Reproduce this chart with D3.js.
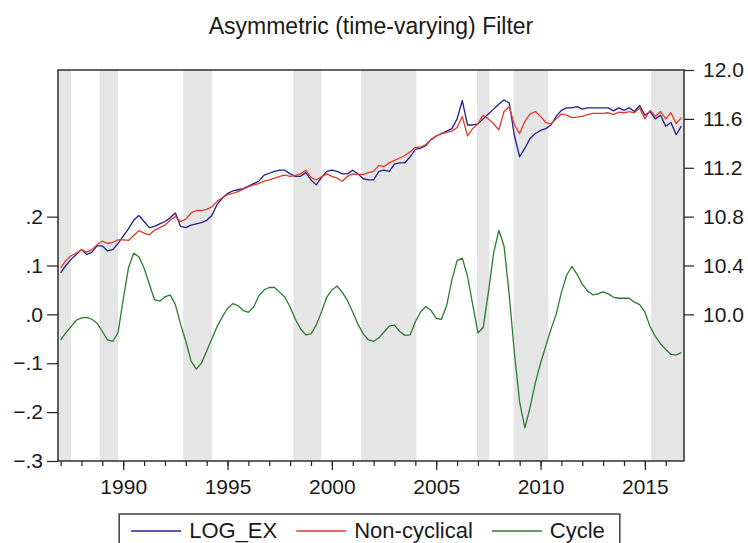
<!DOCTYPE html>
<html>
<head>
<meta charset="utf-8">
<script src="https://cdn.jsdelivr.net/npm/d3@7"></script>
<style>
  body { margin: 0; background: #fff; }
  text { font-family: "Liberation Sans", Arial, sans-serif; fill: #1a1a1a; }
</style>
</head>
<body>
<svg id="chart"></svg>
<script>
var width = 748, height = 543;
var plot = {left: 58, right: 684, top: 70, bottom: 461};

// quarterly data, 1987Q1 .. 2016Q4 (one row = one year)
var startYear = 1987;
var logEx = [
  10.34, 10.40, 10.45, 10.49,
  10.53, 10.49, 10.51, 10.56,
  10.56, 10.52, 10.53, 10.58,
  10.64, 10.70, 10.77, 10.81,
  10.76, 10.71, 10.72, 10.74,
  10.76, 10.79, 10.83, 10.72,
  10.71, 10.73, 10.74, 10.75,
  10.77, 10.81, 10.90, 10.95,
  10.99, 11.01, 11.02, 11.03,
  11.05, 11.07, 11.09, 11.14,
  11.155, 11.17, 11.18, 11.18,
  11.15, 11.13, 11.13, 11.16,
  11.10, 11.06, 11.12, 11.17,
  11.18, 11.17, 11.15, 11.15,
  11.18, 11.15, 11.11, 11.10,
  11.10, 11.17, 11.18, 11.17,
  11.23, 11.24, 11.24, 11.29,
  11.35, 11.36, 11.38, 11.43,
  11.46, 11.48, 11.50, 11.52,
  11.60, 11.75, 11.55, 11.55,
  11.56, 11.60, 11.64, 11.68,
  11.72, 11.755, 11.73, 11.46,
  11.29, 11.36, 11.44, 11.48,
  11.505, 11.52, 11.55, 11.62,
  11.67, 11.69, 11.69, 11.70,
  11.68, 11.69, 11.69, 11.69,
  11.69, 11.69, 11.665, 11.69,
  11.67, 11.69, 11.66, 11.71,
  11.63, 11.66, 11.60, 11.63,
  11.54, 11.57, 11.47, 11.54
];
var nonCyclical = [
  10.38, 10.44, 10.48, 10.50,
  10.53, 10.51, 10.53, 10.57,
  10.60, 10.58, 10.59, 10.61,
  10.61, 10.605, 10.645, 10.685,
  10.665, 10.65, 10.69, 10.71,
  10.73, 10.77, 10.80, 10.76,
  10.78, 10.83, 10.85, 10.85,
  10.86, 10.88, 10.925, 10.955,
  10.98, 10.99, 11.005, 11.025,
  11.045, 11.06, 11.07, 11.09,
  11.10, 11.115, 11.13, 11.14,
  11.13, 11.135, 11.15, 11.18,
  11.12, 11.10, 11.125, 11.15,
  11.13, 11.115, 11.09, 11.13,
  11.15, 11.145, 11.145, 11.16,
  11.17, 11.22, 11.21, 11.24,
  11.26, 11.28, 11.30, 11.33,
  11.365, 11.37, 11.39, 11.43,
  11.46, 11.48, 11.49, 11.50,
  11.53, 11.62, 11.46, 11.52,
  11.56, 11.63, 11.60, 11.56,
  11.51, 11.66, 11.70, 11.55,
  11.48, 11.58, 11.64, 11.66,
  11.62, 11.57, 11.56, 11.60,
  11.64, 11.63, 11.61, 11.615,
  11.62, 11.635, 11.645, 11.645,
  11.645, 11.65, 11.635, 11.655,
  11.65, 11.66, 11.65, 11.69,
  11.60, 11.67, 11.62, 11.66,
  11.60, 11.65, 11.56, 11.61
];
var cycle = [
  -0.052, -0.038, -0.025, -0.012,
  -0.007, -0.006, -0.010, -0.018,
  -0.035, -0.052, -0.055, -0.038,
  0.030, 0.095, 0.125, 0.118,
  0.095, 0.062, 0.030, 0.027,
  0.036, 0.040, 0.020, -0.020,
  -0.055, -0.095, -0.112, -0.100,
  -0.075, -0.050, -0.025, -0.005,
  0.012, 0.022, 0.018, 0.008,
  0.004, 0.015, 0.038, 0.050,
  0.055, 0.055, 0.045, 0.035,
  0.015, -0.010, -0.030, -0.042,
  -0.040, -0.022, 0.005, 0.035,
  0.050, 0.058, 0.045, 0.028,
  0.005, -0.020, -0.040, -0.052,
  -0.055, -0.048, -0.036, -0.024,
  -0.022, -0.035, -0.043, -0.042,
  -0.015, 0.005, 0.016, 0.008,
  -0.008, -0.010, 0.018, 0.070,
  0.110, 0.115, 0.078, 0.020,
  -0.038, -0.027, 0.045, 0.125,
  0.172, 0.140, 0.040, -0.080,
  -0.180, -0.232, -0.190, -0.140,
  -0.100, -0.065, -0.030, 0.000,
  0.045, 0.080, 0.098, 0.082,
  0.062, 0.048, 0.040, 0.042,
  0.046, 0.042, 0.035, 0.033,
  0.033, 0.033, 0.025, 0.020,
  0.005, -0.025, -0.045, -0.060,
  -0.072, -0.082, -0.083, -0.078
];

// shaded periods (years)
var shaded = [
  [1986.875, 1987.5], [1988.875, 1989.75], [1992.875, 1994.25],
  [1998.15, 1999.5], [2001.4, 2004.05], [2006.95, 2007.55],
  [2008.7, 2010.375], [2015.3, 2016.875]
];

var leftTicks = [-0.3, -0.2, -0.1, 0.0, 0.1, 0.2];
var rightTicks = [10.0, 10.4, 10.8, 11.2, 11.6, 12.0];
var yearLabels = [1990, 1995, 2000, 2005, 2010, 2015];
var yearTicks = d3.range(1987, 2017);

var series = [
  {name: "LOG_EX", values: logEx, color: "#1f1f8f", axis: "right"},
  {name: "Non-cyclical", values: nonCyclical, color: "#e23a2a", axis: "right"},
  {name: "Cycle", values: cycle, color: "#2a7d2e", axis: "left"}
];

var svg = d3.select("#chart")
    .attr("width", width)
    .attr("height", height);

var x = d3.scaleLinear()
    .domain([startYear - 0.125, 2016.875])
    .range([plot.left, plot.right]);
var yLeft = d3.scaleLinear().domain([-0.3, 0.5]).range([plot.bottom, plot.top]);
var yRight = d3.scaleLinear().domain([8.8, 12.0]).range([plot.bottom, plot.top]);

function quarterYear(i) { return startYear + i / 4; }

// title
svg.append("text")
    .attr("x", (plot.left + plot.right) / 2)
    .attr("y", 34)
    .attr("text-anchor", "middle")
    .style("font-size", "23px")
    .text("Asymmetric (time-varying) Filter");

svg.append("clipPath").attr("id", "clip")
  .append("rect")
    .attr("x", plot.left).attr("y", plot.top)
    .attr("width", plot.right - plot.left)
    .attr("height", plot.bottom - plot.top);

// grey bands
svg.append("g").attr("clip-path", "url(#clip)")
  .selectAll("rect")
  .data(shaded)
  .enter().append("rect")
    .attr("x", function(d) { return x(d[0]); })
    .attr("width", function(d) { return x(d[1]) - x(d[0]); })
    .attr("y", plot.top)
    .attr("height", plot.bottom - plot.top)
    .attr("fill", "#e5e5e5");

// lines
var lines = svg.append("g").attr("clip-path", "url(#clip)");
series.forEach(function(s) {
    var yScale = s.axis == "left" ? yLeft : yRight;
    var line = d3.line()
        .x(function(d, i) { return x(quarterYear(i)); })
        .y(function(d) { return yScale(d); });
    lines.append("path")
        .datum(s.values)
        .attr("fill", "none")
        .attr("stroke", s.color)
        .attr("stroke-width", 1.3)
        .attr("stroke-linejoin", "round")
        .attr("d", line);
});

// axes
var fmtLeft = function(d) {
    return d3.format(".1f")(d).replace("0.", ".");
};
var axisStyle = function(g) {
    g.select(".domain").remove();
    g.selectAll("line").attr("stroke", "#222").attr("stroke-width", 1.2);
    g.selectAll("text").style("font-size", "21px").attr("fill", "#1a1a1a")
        .style("font-family", "'Liberation Sans', Arial, sans-serif");
};

svg.append("g")
    .attr("transform", "translate(" + plot.left + ",0)")
    .call(d3.axisLeft(yLeft).tickValues(leftTicks).tickFormat(fmtLeft)
        .tickSize(11).tickPadding(4))
    .call(axisStyle);

svg.append("g")
    .attr("transform", "translate(" + plot.right + ",0)")
    .call(d3.axisRight(yRight).tickValues(rightTicks).tickFormat(d3.format(".1f"))
        .tickSize(10).tickPadding(9))
    .call(axisStyle);

svg.append("g")
    .attr("transform", "translate(0," + plot.bottom + ")")
    .call(d3.axisBottom(x).tickValues(yearTicks).tickFormat("").tickSize(5))
    .call(axisStyle);

svg.append("g")
    .attr("transform", "translate(0," + plot.bottom + ")")
    .call(d3.axisBottom(x).tickValues(yearLabels).tickFormat(d3.format("d"))
        .tickSize(9).tickPadding(9))
    .call(axisStyle);

// frame
svg.append("rect")
    .attr("x", plot.left).attr("y", plot.top)
    .attr("width", plot.right - plot.left)
    .attr("height", plot.bottom - plot.top)
    .attr("fill", "none")
    .attr("stroke", "#222")
    .attr("stroke-width", 1.4);

// legend (box runs past the bottom edge, as in the original)
var legend = svg.append("g");
var legendBox = legend.append("rect")
    .attr("y", 514).attr("height", 34)
    .attr("fill", "#fff").attr("stroke", "#333").attr("stroke-width", 1.4);
var lx = 0, legendY = 531;
var items = legend.append("g");
series.forEach(function(s, i) {
    items.append("line")
        .attr("x1", lx).attr("x2", lx + 50)
        .attr("y1", legendY).attr("y2", legendY)
        .attr("stroke", s.color).attr("stroke-width", 1.4);
    var t = items.append("text")
        .attr("x", lx + 58).attr("y", legendY + 7)
        .style("font-size", "22px")
        .text(s.name);
    lx += 58 + t.node().getComputedTextLength() + 19;
});
var itemsWidth = lx - 19;
var boxWidth = itemsWidth + 12 + 15;
var boxX = (plot.left + plot.right) / 2 - 1.5 - boxWidth / 2;
legendBox.attr("x", boxX).attr("width", boxWidth);
items.attr("transform", "translate(" + (boxX + 12) + ",0)");
</script>
</body>
</html>
